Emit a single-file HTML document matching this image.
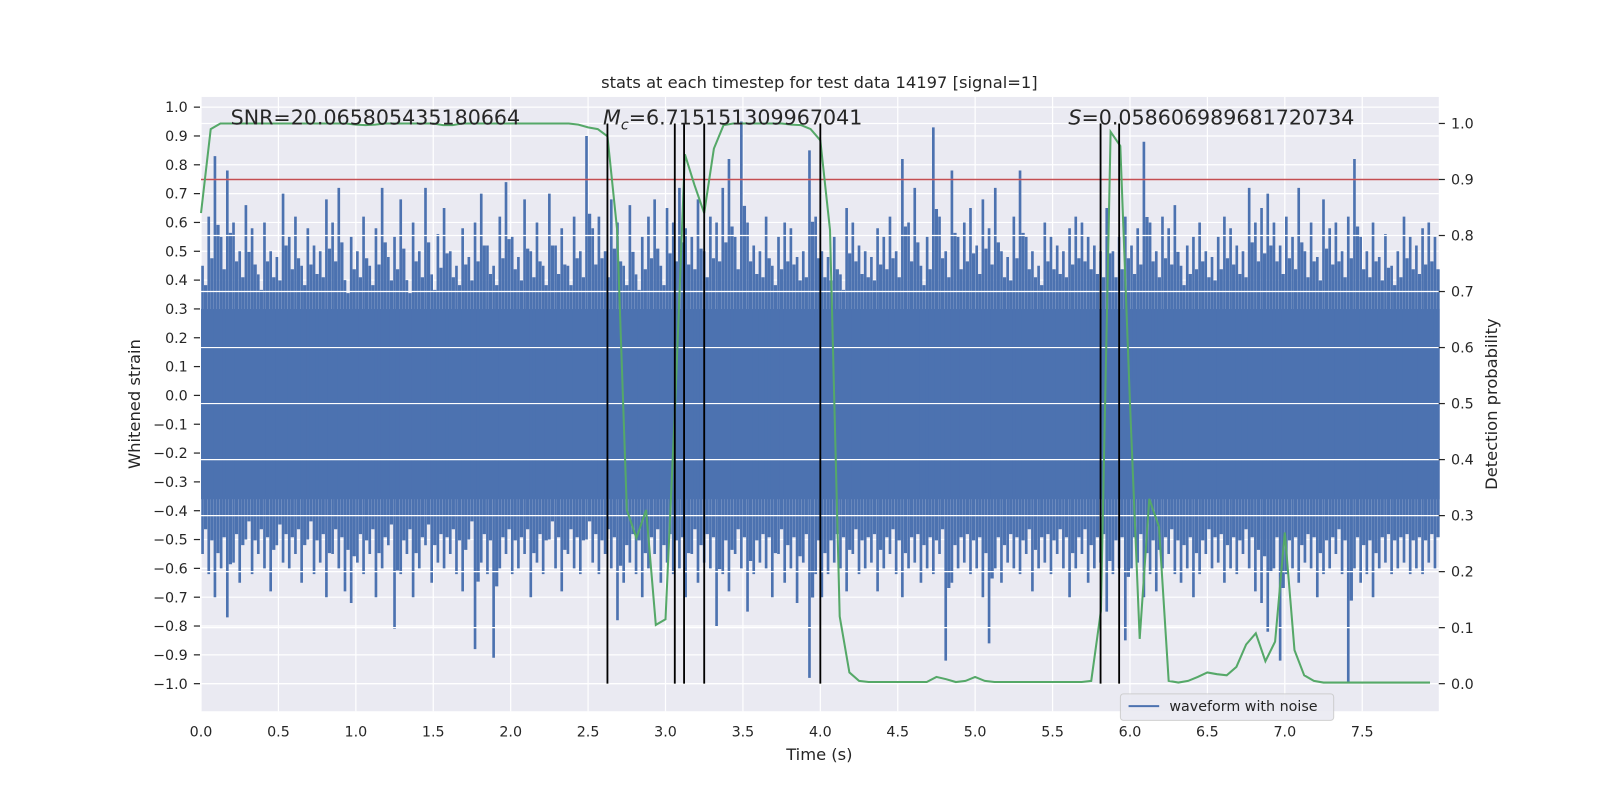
<!DOCTYPE html>
<html><head><meta charset="utf-8">
<style>
html,body{margin:0;padding:0;background:#fff;}
svg{display:block;font-family:"DejaVu Sans","Liberation Sans",sans-serif;}
</style></head>
<body>
<svg id="chart" width="1600" height="800" viewBox="0 0 1568 784" preserveAspectRatio="none" xmlns="http://www.w3.org/2000/svg">
<rect x="0" y="0" width="1568" height="784" fill="#ffffff"/>
<rect x="197" y="95" width="1213" height="602" fill="#eaeaf2"/>
<g id="gridBelow"></g>
<g id="wave"></g>
<g id="gridAbove"></g>
<g id="marks"></g>
<g id="axes"></g>
<text x="803" y="86" font-size="16" text-anchor="middle" fill="#262626">stats at each timestep for test data 14197 [signal=1]</text>
<text x="226" y="122" font-size="20.2" fill="#262626">SNR=20.065805435180664</text>
<text x="591" y="122" font-size="20.2" fill="#262626"><tspan font-style="italic">M</tspan><tspan font-style="italic" font-size="14" dy="5">c</tspan><tspan dy="-5">=6.715151309967041</tspan></text>
<text x="1047" y="122" font-size="20.2" fill="#262626"><tspan font-style="italic">S</tspan>=0.058606989681720734</text>
<text x="803" y="745" font-size="16" text-anchor="middle" fill="#262626">Time (s)</text>
<text transform="translate(137,396) rotate(-90)" font-size="16" text-anchor="middle" fill="#262626">Whitened strain</text>
<text transform="translate(1467,396) rotate(-90)" font-size="16" text-anchor="middle" fill="#262626">Detection probability</text>
<g>
<rect x="1098" y="680" width="209" height="26" rx="3" fill="#eaeaf2" stroke="#cccccc" stroke-width="1" opacity="0.9"/>
<line x1="1106" y1="692" x2="1136" y2="692" stroke="#4c72b0" stroke-width="2"/>
<text x="1146" y="697" font-size="14" fill="#262626">waveform with noise</text>
</g>
</svg>
<script>
const xTicks=[0,0.5,1,1.5,2,2.5,3,3.5,4,4.5,5,5.5,6,6.5,7,7.5];
const yTicks=[1.0,0.9,0.8,0.7,0.6,0.5,0.4,0.3,0.2,0.1,0.0,-0.1,-0.2,-0.3,-0.4,-0.5,-0.6,-0.7,-0.8,-0.9,-1.0];
const y2Ticks=[0.0,0.1,0.2,0.3,0.4,0.5,0.6,0.7,0.8,0.9,1.0];
const binStep=0.04;
const coreTop=0.3, coreBottom=-0.36;
const upper=[0.45,0.62,0.83,0.55,0.78,0.6,0.5,0.66,0.58,0.42,0.6,0.5,0.48,0.7,0.55,0.62,0.45,0.58,0.52,0.5,0.68,0.6,0.72,0.4,0.55,
0.5,0.62,0.45,0.58,0.72,0.48,0.55,0.68,0.4,0.6,0.5,0.72,0.42,0.56,0.65,0.5,0.45,0.58,0.48,0.6,0.7,0.52,0.45,0.62,0.74,
0.55,0.48,0.68,0.5,0.6,0.45,0.7,0.52,0.58,0.45,0.62,0.5,0.9,0.58,0.62,0.5,0.68,0.6,0.45,0.66,0.42,0.55,0.62,0.68,0.45,
0.65,0.6,0.72,0.58,0.55,0.68,0.5,0.62,0.6,0.72,0.82,0.55,0.95,0.6,0.52,0.5,0.62,0.45,0.55,0.6,0.58,0.48,0.5,0.85,0.62,
0.5,0.48,0.55,0.42,0.65,0.6,0.52,0.5,0.48,0.58,0.55,0.62,0.5,0.82,0.6,0.72,0.45,0.55,0.93,0.62,0.5,0.78,0.55,0.6,0.65,
0.52,0.68,0.58,0.72,0.5,0.48,0.62,0.78,0.55,0.5,0.45,0.6,0.55,0.52,0.5,0.58,0.62,0.6,0.55,0.52,0.5,0.65,0.5,0.55,0.62,
0.52,0.58,0.88,0.6,0.5,0.62,0.58,0.66,0.45,0.52,0.55,0.6,0.5,0.48,0.55,0.62,0.58,0.52,0.5,0.72,0.6,0.65,0.7,0.6,0.52,
0.62,0.55,0.72,0.5,0.6,0.48,0.68,0.58,0.6,0.5,0.62,0.82,0.55,0.5,0.6,0.48,0.56,0.45,0.5,0.62,0.55,0.52,0.58,0.6,0.55];
const lower=[-0.55,-0.62,-0.7,-0.6,-0.77,-0.58,-0.65,-0.5,-0.62,-0.55,-0.6,-0.68,-0.52,-0.58,-0.6,-0.55,-0.65,-0.5,-0.62,-0.58,-0.7,-0.55,-0.6,-0.68,-0.72,
-0.58,-0.62,-0.55,-0.7,-0.6,-0.52,-0.81,-0.62,-0.55,-0.7,-0.6,-0.52,-0.65,-0.58,-0.6,-0.55,-0.62,-0.68,-0.5,-0.88,-0.58,-0.62,-0.91,-0.6,-0.55,
-0.62,-0.6,-0.55,-0.7,-0.58,-0.62,-0.5,-0.6,-0.68,-0.55,-0.6,-0.62,-0.5,-0.58,-0.62,-0.55,-0.6,-0.78,-0.65,-0.58,-0.62,-0.7,-0.6,-0.55,-0.65,
-0.58,-0.62,-0.6,-0.7,-0.55,-0.65,-0.58,-0.6,-0.8,-0.62,-0.68,-0.55,-0.6,-0.75,-0.62,-0.58,-0.6,-0.7,-0.55,-0.65,-0.6,-0.72,-0.58,-0.98,-0.62,
-0.7,-0.62,-0.58,-0.6,-0.68,-0.55,-0.62,-0.6,-0.58,-0.68,-0.6,-0.55,-0.62,-0.7,-0.6,-0.58,-0.65,-0.6,-0.62,-0.55,-0.92,-0.65,-0.6,-0.58,-0.62,
-0.6,-0.7,-0.86,-0.6,-0.65,-0.58,-0.6,-0.62,-0.55,-0.68,-0.6,-0.58,-0.62,-0.55,-0.6,-0.7,-0.6,-0.55,-0.65,-0.6,-0.58,-0.75,-0.62,-0.6,-0.85,
-0.6,-0.58,-0.7,-0.62,-0.68,-0.6,-0.55,-0.62,-0.65,-0.6,-0.7,-0.62,-0.55,-0.6,-0.58,-0.65,-0.6,-0.62,-0.55,-0.6,-0.68,-0.72,-0.82,-0.6,-0.92,
-0.62,-0.6,-0.65,-0.58,-0.6,-0.7,-0.62,-0.6,-0.55,-0.62,-1.0,-0.6,-0.65,-0.62,-0.7,-0.6,-0.58,-0.62,-0.6,-0.58,-0.62,-0.6,-0.62,-0.58,-0.6];
const probStep=0.0625;
const prob=[0.84,0.99,1.0,1.0,1.0,1.0,1.0,1.0,1.0,1.0,1.0,1.0,1.0,1.0,1.0,1.0,0.998,0.997,0.998,1.0,1.0,1.0,1.0,1.0,1.0,0.997,0.997,1.0,1.0,1.0,1.0,1.0,1.0,1.0,1.0,1.0,1.0,1.0,1.0,0.998,0.993,0.99,0.977,0.81,0.31,0.26,0.31,0.105,0.115,0.5,
0.945,0.89,0.84,0.955,0.997,1.0,1.0,1.0,1.0,1.0,1.0,0.998,0.997,0.99,0.97,0.81,0.12,0.02,0.005,0.003,0.003,0.003,0.003,0.003,0.003,0.003,0.012,0.008,0.003,0.005,0.012,0.005,0.003,0.003,0.003,0.003,0.003,0.003,0.003,0.003,0.003,0.003,0.005,0.13,0.985,0.96,0.5,0.08,0.33,0.28,
0.005,0.002,0.005,0.012,0.02,0.017,0.015,0.03,0.07,0.09,0.04,0.075,0.27,0.06,0.015,0.005,0.002,0.002,0.002,0.002,0.002,0.002,0.002,0.002,0.002,0.002,0.002,0.002];
const eventTimes=[2.625,3.06,3.12,3.25,4.0,5.81,5.93];
const threshold=[0.9];

const NS="http://www.w3.org/2000/svg";
const X=t=>197+t*151.73;
const Y=v=>387.5-v*282.5;
const Y2=p=>670-p*549;
function mk(tag,attrs,parent){const e=document.createElementNS(NS,tag);for(const k in attrs)e.setAttribute(k,attrs[k]);parent.appendChild(e);return e;}
const gb=document.getElementById('gridBelow'),ga=document.getElementById('gridAbove'),wv=document.getElementById('wave'),mk2=document.getElementById('marks'),ax=document.getElementById('axes');

xTicks.forEach(t=>{
 const l=mk('line',{x1:X(t),x2:X(t),y1:95,y2:697,stroke:'#fff','stroke-width':1.2},gb);
 
 
 const tx=mk('text',{x:X(t),y:722,'font-size':14,'text-anchor':'middle',fill:'#262626'},ax);
 tx.textContent=t.toFixed(1);
 
 
});
yTicks.forEach(v=>{
 const l=mk('line',{x1:197,x2:1410,y1:Y(v),y2:Y(v),stroke:'#fff','stroke-width':1.2},gb);
 
 
 const tk=mk('line',{x1:190,x2:196,y1:Y(v),y2:Y(v),stroke:'#262626','stroke-width':1.2},ax);
 
 
 const tx=mk('text',{x:184,y:Y(v)+5,'font-size':14,'text-anchor':'end',fill:'#262626'},ax);
 tx.textContent=(v<0?'\u2212':'')+Math.abs(v).toFixed(1);
 
 
});
const core=mk('rect',{x:X(0),y:Y(coreTop),width:X(upper.length*binStep)-X(0),height:Y(coreBottom)-Y(coreTop),fill:'#4c72b0'},wv);


upper.forEach((u,i)=>{
 const t=i*binStep, xc=X(t)+1.5;
 const s=mk('line',{x1:xc,x2:xc,y1:Y(u),y2:Y(lower[i]),stroke:'#4c72b0','stroke-width':2.6},wv);
 
 
 const m=mk('line',{x1:xc+3,x2:xc+3,y1:Y(coreTop+(u-coreTop)*0.55),y2:Y(coreBottom+(lower[i]-coreBottom)*0.55),stroke:'#4c72b0','stroke-width':3.2},wv);
 
 
});
y2Ticks.forEach(p=>{
 const l=mk('line',{x1:197,x2:1410,y1:Y2(p),y2:Y2(p),stroke:'#fff','stroke-width':1.2},ga);
 
 
 const tk=mk('line',{x1:1410,x2:1416,y1:Y2(p),y2:Y2(p),stroke:'#262626','stroke-width':1.2},ax);
 
 
 const tx=mk('text',{x:1422,y:Y2(p)+5,'font-size':14,fill:'#262626'},ax);
 tx.textContent=p.toFixed(1);
 
 
});
threshold.forEach(p=>{
 const l=mk('line',{x1:197,x2:1410,y1:Y2(p),y2:Y2(p),stroke:'#c44e52','stroke-width':1.5},mk2);
 
 
});
const pts=prob.map((p,i)=>X(i*probStep).toFixed(1)+','+Y2(p).toFixed(1)).join(' ');
const pl=mk('polyline',{points:pts,fill:'none',stroke:'#55a868','stroke-width':2},mk2);


eventTimes.forEach(t=>{
 const l=mk('line',{x1:X(t),x2:X(t),y1:Y2(1),y2:Y2(0),stroke:'#000','stroke-width':1.8},mk2);
 
 
});
</script>
</body></html>
